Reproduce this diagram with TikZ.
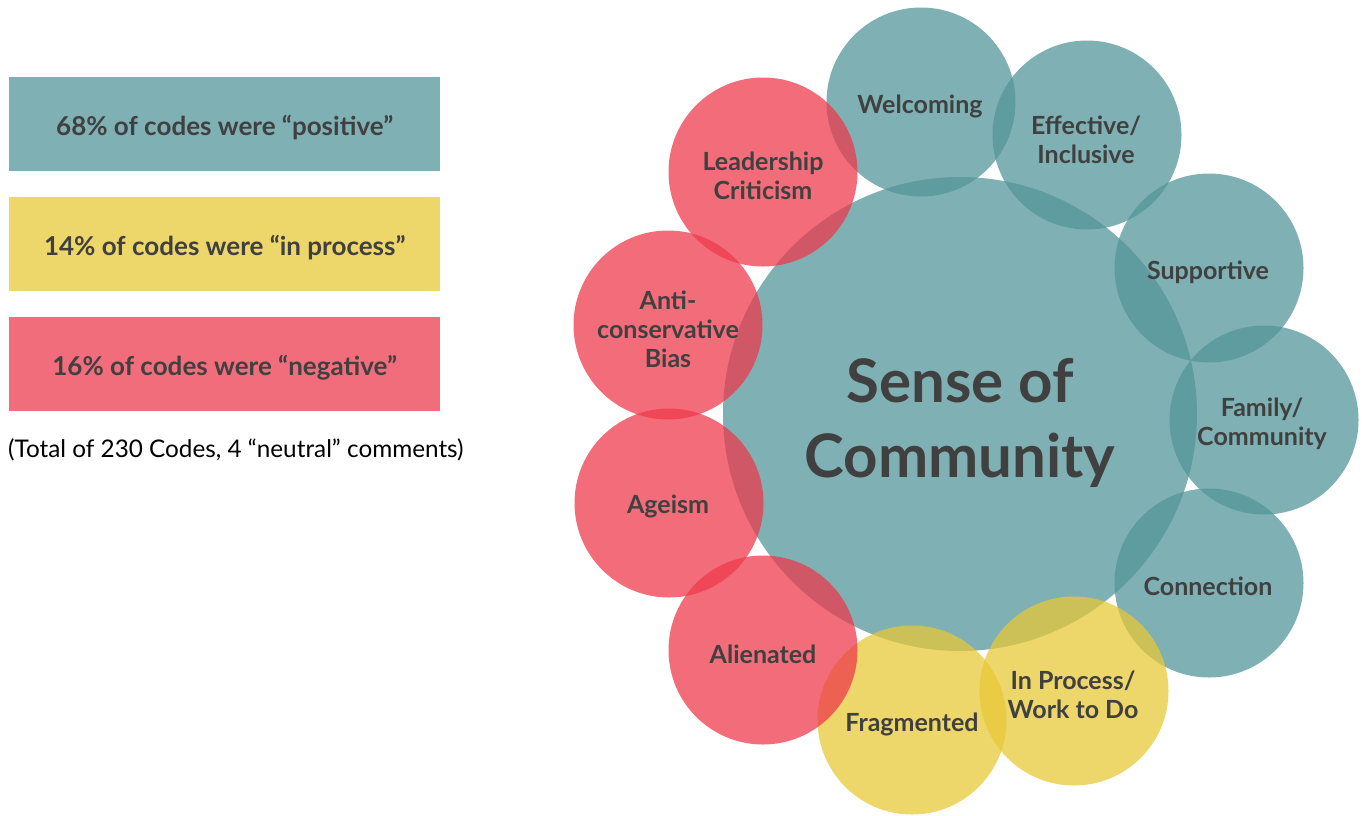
\documentclass[tikz,border=0pt]{standalone}
\usepackage{fontspec}
\setmainfont{Lato}
\definecolor{tealfill}{RGB}{82,149,153}
\definecolor{redfill}{RGB}{238,57,76}
\definecolor{yellowfill}{RGB}{231,200,54}
\definecolor{tealbox}{RGB}{127,176,179}
\definecolor{yellowbox}{RGB}{237,214,106}
\definecolor{redbox}{RGB}{242,109,123}
\definecolor{ink}{RGB}{64,64,64}
\tikzset{
  bubble/.style={circle, fill opacity=0.74, inner sep=0pt, minimum size=189pt},
  tealbubble/.style={bubble, fill=tealfill},
  redbubble/.style={bubble, fill=redfill},
  yellowbubble/.style={bubble, fill=yellowfill},
  label/.style={text=ink, font=\bfseries\fontsize{25}{29}\selectfont, align=center, inner sep=0pt},
  legendbox/.style={minimum width=431pt, minimum height=94pt, inner sep=0pt, anchor=north west},
  legendtext/.style={text=ink, inner sep=0pt, font=\bfseries\fontsize{26}{30}\selectfont}
}
\begin{document}
\begin{tikzpicture}[x=1pt,y=-1pt]
\useasboundingbox (0,0) rectangle (1363,815);
% legend
\node[legendbox, fill=tealbox] (lpos) at (9,77) {};
\node[legendbox, fill=yellowbox] (lproc) at (9,197) {};
\node[legendbox, fill=redbox] (lneg) at (9,317) {};
\node[legendtext] (tpos) at ([yshift=-3pt]lpos.center) {68\% of codes were “positive”};
\node[legendtext] (tproc) at ([yshift=-3pt]lproc.center) {14\% of codes were “in process”};
\node[legendtext] (tneg) at ([yshift=-3pt]lneg.center) {16\% of codes were “negative”};
\node[anchor=west, inner sep=0pt, text=black, font=\fontsize{24.3}{28}\selectfont] (total) at (8,450)
  {(Total of 230 Codes, 4 “neutral” comments)};
% bubbles
\node[tealbubble, minimum size=474pt] (core) at (960,414) {};
\node[tealbubble] (welc) at (921,102) {};
\node[tealbubble] (eff) at (1087,135) {};
\node[tealbubble] (supp) at (1209,268) {};
\node[tealbubble] (fam) at (1264,420) {};
\node[tealbubble] (conn) at (1209,583) {};
\node[yellowbubble] (proc) at (1074,691) {};
\node[yellowbubble] (frag) at (912,720) {};
\node[redbubble] (alien) at (763,650) {};
\node[redbubble] (age) at (669,503) {};
\node[redbubble] (anti) at (668,325) {};
\node[redbubble] (lead) at (763,172) {};
% labels
\node[label, font=\bfseries\fontsize{60}{75}\selectfont] at (960,423) {Sense of\\Community};
\node[label] at (920,106) {Welcoming};
\node[label] at (1086,140) {Effective/\\Inclusive};
\node[label] at (1208,272) {Supportive};
\node[label] at (1262,424) {Family/\\Community};
\node[label] at (1208,586) {Connection};
\node[label] at (1073,695) {In Process/\\Work to Do};
\node[label] at (912,724) {Fragmented};
\node[label] at (763,654) {Alienated};
\node[label] at (668,506) {Ageism};
\node[label] at (668,329) {Anti-\\conservative\\Bias};
\node[label] at (763,176) {Leadership\\Criticism};
\end{tikzpicture}
\end{document}
